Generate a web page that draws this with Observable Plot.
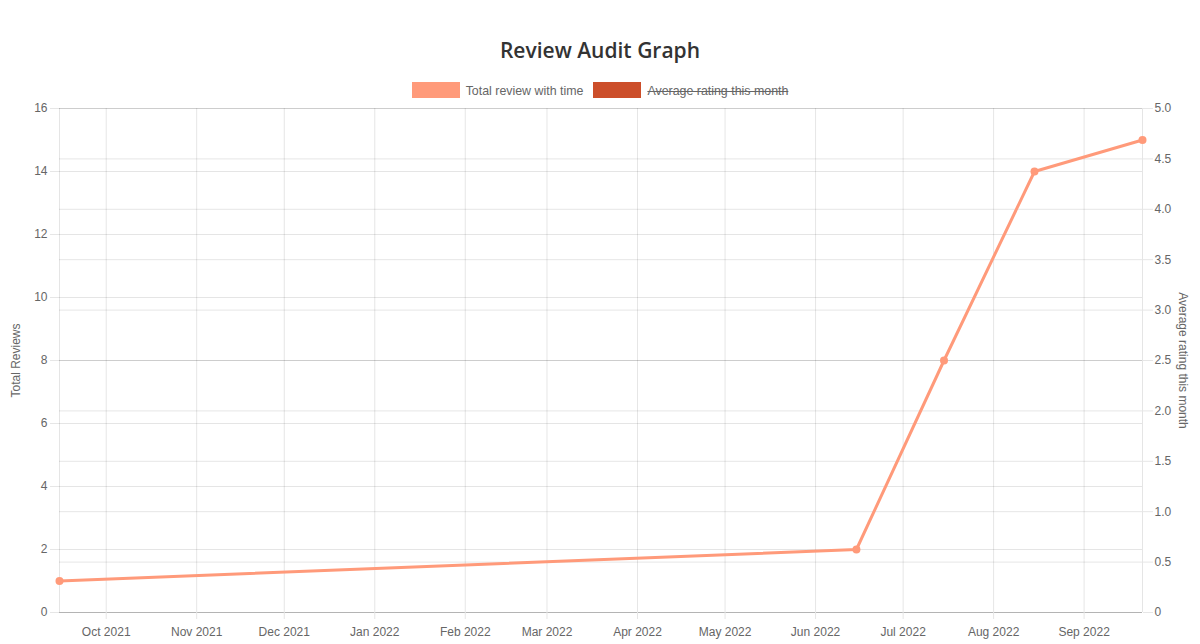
<!DOCTYPE html>
<html>
<head>
<meta charset="utf-8">
<script src="https://cdn.jsdelivr.net/npm/d3@7"></script>
<script src="https://cdn.jsdelivr.net/npm/@observablehq/plot@0.6"></script>
<style>
  html, body { margin: 0; padding: 0; background: #fff; }
  #wrap { position: relative; width: 1200px; height: 644px; overflow: hidden; font-family: "Liberation Sans", Arial, sans-serif; }
  #title { position: absolute; top: 34px; left: 0; width: 1200px; text-align: center; font-family: "Open Sans", sans-serif; font-weight: 600; font-size: 21px; color: #333; line-height: 32px; }
  #legend { position: absolute; top: 82px; left: 0; width: 1200px; display: flex; justify-content: center; align-items: center; font-size: 12.4px; color: #666; }
  .item { display: flex; align-items: center; margin: 0 5px; }
  .box { width: 46px; height: 15px; margin-right: 6px; border: 1px solid; }
  .struck { text-decoration: line-through; }
  #chart { position: absolute; top: 98px; left: 0; }
</style>
</head>
<body>
<div id="wrap">
  <div id="title"></div>
  <div id="legend"></div>
  <div id="chart"></div>
</div>
<script>
// ---- data ----
const chartTitle = "Review Audit Graph";
const seriesNames = ["Total review with time", "Average rating this month"];
const seriesColors = ["#FF9A7A", "#CC4E2A"];
const seriesHidden = [false, true];
const reviewDates = ["2021-09-15", "2022-06-15", "2022-07-15", "2022-08-15", "2022-09-21"];
const totalReviews = [1, 2, 8, 14, 15];
const averageRating = []; // hidden series
const leftTicks = [0, 2, 4, 6, 8, 10, 12, 14, 16];
const ratingTicks = [0, 0.5, 1, 1.5, 2, 2.5, 3, 3.5, 4, 4.5, 5];
const monthTicks = ["2021-10-01", "2021-11-01", "2021-12-01", "2022-01-01", "2022-02-01", "2022-03-01",
                    "2022-04-01", "2022-05-01", "2022-06-01", "2022-07-01", "2022-08-01", "2022-09-01"];
const leftLabel = "Total Reviews";
const rightLabel = "Average rating this month";
const leftMax = 16, ratingMax = 5;

// ---- header ----
document.getElementById("title").textContent = chartTitle;
const legend = document.getElementById("legend");
seriesNames.forEach((name, i) => {
  const item = document.createElement("div");
  item.className = "item";
  const box = document.createElement("span");
  box.className = "box";
  box.style.background = seriesColors[i];
  box.style.borderColor = seriesColors[i];
  const label = document.createElement("span");
  label.textContent = name;
  if (seriesHidden[i]) label.className = "struck";
  item.append(box, label);
  legend.append(item);
});

// ---- chart ----
const parse = d3.utcParse("%Y-%m-%d");
const data = reviewDates.map((d, i) => ({date: parse(d), total: totalReviews[i]}));
const months = monthTicks.map(parse);
const toLeft = r => r * leftMax / ratingMax;
const ratingOnLeft = ratingTicks.map(toLeft);
const grid = {stroke: "#000", strokeOpacity: 0.1};
const fmtMonth = d3.utcFormat("%b %Y");

const plot = Plot.plot({
  width: 1200,
  height: 546,
  marginTop: 10,
  marginRight: 58,
  marginBottom: 32,
  marginLeft: 59,
  x: {type: "utc", domain: [data[0].date, data[data.length - 1].date]},
  y: {domain: [0, leftMax]},
  style: {fontFamily: "'Liberation Sans', Arial, sans-serif", fontSize: "12px", color: "#666", background: "white", overflow: "visible"},
  marks: [
    Plot.ruleY(leftTicks, grid),
    Plot.ruleY(ratingOnLeft, grid),
    Plot.ruleX(months, grid),
    Plot.ruleX([data[0].date, data[data.length - 1].date], grid),
    Plot.ruleY([0], {stroke: "#000", strokeOpacity: 0.12}),
    Plot.axisY(leftTicks, {anchor: "left", tickSize: 9, tickPadding: 3, stroke: "#e6e6e6", fill: "#666", label: null, fontSize: 12}),
    Plot.axisY(ratingOnLeft, {anchor: "right", tickSize: 10, tickPadding: 2, stroke: "#e6e6e6", fill: "#666", label: null, fontSize: 12,
      tickFormat: d => { const r = d * ratingMax / leftMax; return Math.abs(r) < 1e-9 ? "0" : r.toFixed(1); }}),
    Plot.axisX(months, {anchor: "bottom", tickSize: 7, tickPadding: 8, stroke: "#e6e6e6", fill: "#666", label: null, fontSize: 12, tickFormat: fmtMonth}),
    Plot.text([leftLabel], {frameAnchor: "left", textAnchor: "middle", dx: -43, rotate: -90, fill: "#666", fontSize: 12}),
    Plot.text([rightLabel], {frameAnchor: "right", textAnchor: "middle", dx: 40, rotate: 90, fill: "#666", fontSize: 12}),
    Plot.line(data, {x: "date", y: "total", stroke: seriesColors[0], strokeWidth: 3}),
    Plot.dot(data, {x: "date", y: "total", r: 4, fill: seriesColors[0], stroke: null})
  ]
});
document.getElementById("chart").append(plot);
</script>
</body>
</html>
